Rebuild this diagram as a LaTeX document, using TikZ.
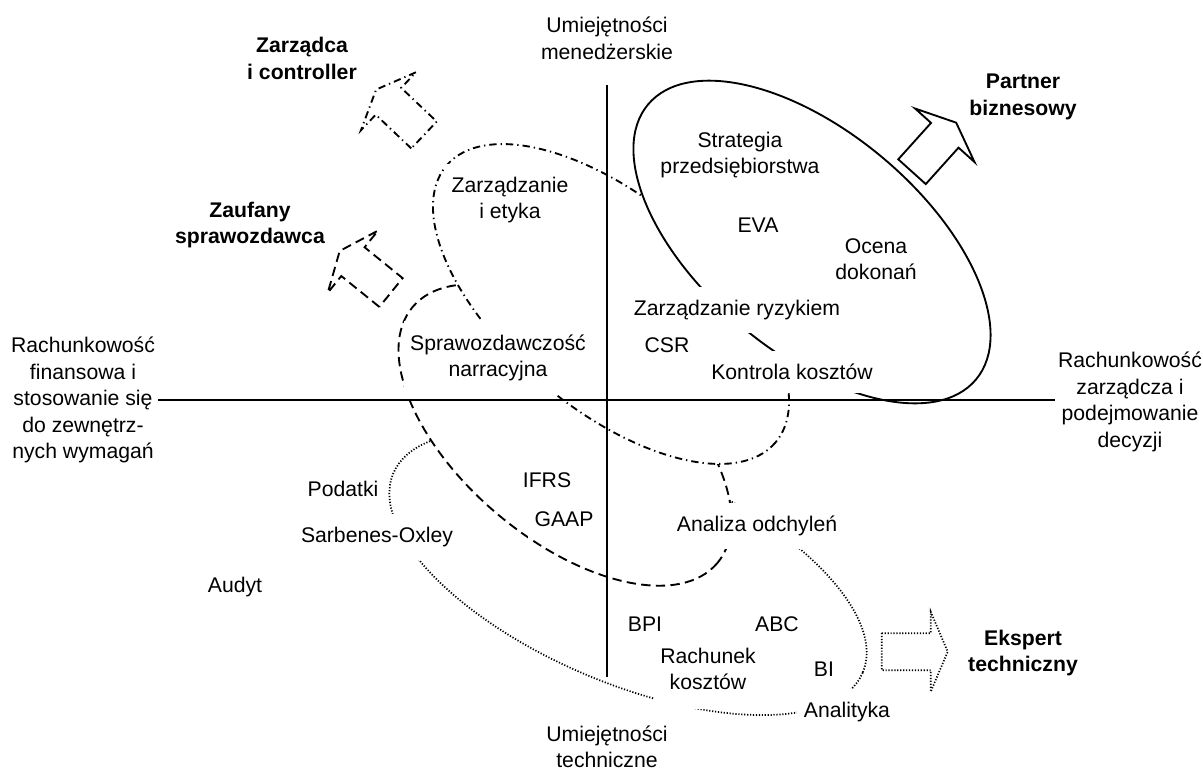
\documentclass[tikz,border=0pt]{standalone}
\usepackage{fontspec}
\setmainfont{Liberation Sans}
\newcommand\lblsize{\fontsize{15.9}{19.9}\selectfont}
\tikzset{
  axisline/.style={line width=1.4pt},
  lbl/.style={fill=white, inner xsep=5pt, inner ysep=10pt, align=center, font=\lblsize},
  axislbl/.style={inner xsep=2pt, inner ysep=2pt, align=center, font=\lblsize},
  rolelbl/.style={inner sep=2pt, align=center, font=\lblsize\bfseries},
  ring/.style={line width=1.4pt},
  dashpat/.style={dash pattern=on 7pt off 4pt},
  dashdotpat/.style={dash pattern=on 5.5pt off 3pt on 1pt off 3pt},
  dotpat/.style={dash pattern=on 0.9pt off 1.3pt},
  blockarrow/.pic={
    \draw (0,-18.5) -- (49,-18.5) -- (49,-40) -- (66,0) -- (49,40) -- (49,18.5) -- (0,18.5) -- cycle;
  }
}
\begin{document}
\begin{tikzpicture}[x=0.75pt,y=-0.75pt]
  \useasboundingbox (0,0) rectangle (1203,771);

  \draw[ring,dotpat,line width=1.3pt,rotate around={-23:(628,573)}] (628,573) ellipse [x radius=255, y radius=110];
  \draw[ring,dashpat,fill=white,rotate around={-40:(565,435)}] (565,435) ellipse [x radius=199, y radius=104];
  \draw[ring,dashdotpat,fill=white,rotate around={-40:(611,304)}] (611,304) ellipse [x radius=215, y radius=105];
  \draw[ring,fill=white,rotate around={-40:(812,242)}] (812,242) ellipse [x radius=214, y radius=110];

  \node[axislbl] (mgrskill) at (607,38.5) {Umiejętności\\menedżerskie};
  \node[axislbl] (techskill) at (607,747) {Umiejętności\\techniczne};
  \node[axislbl] (finacc) at (83,400) {Rachunkowość\\finansowa i\\stosowanie się\\do zewnętrz-\\nych wymagań};
  \node[axislbl] (mgmtacc) at (1130,402) {Rachunkowość\\zarządcza i\\podejmowanie\\decyzji};

  \node[rolelbl] (controller) at (302,58.5) {Zarządca\\i controller};
  \node[rolelbl] (reporter) at (250,225) {Zaufany\\sprawozdawca};
  \node[rolelbl] (partner) at (1023,97) {Partner\\biznesowy};
  \node[rolelbl] (expert) at (1023,653) {Ekspert\\techniczny};

  \node[lbl] (strategy) at (740,155) {Strategia\\przedsiębiorstwa};
  \node[lbl] (eva) at (758,225) {EVA};
  \node[lbl] (perf) at (876,259) {Ocena\\dokonań};
  \node[lbl] (risk) at (737,310) {Zarządzanie ryzykiem};
  \node[lbl] (csr) at (667,345) {CSR};
  \node[lbl] (costctrl) at (792,372) {Kontrola kosztów};
  \node[lbl] (ethics) at (510,200) {Zarządzanie\\i etyka};
  \node[lbl] (narrative) at (498,358) {Sprawozdawczość\\narracyjna};
  \node[lbl] (ifrs) at (547,480) {IFRS};
  \node[lbl] (gaap) at (564,519) {GAAP};
  \node[lbl] (tax) at (343,489) {Podatki};
  \node[lbl] (sox) at (377,537) {Sarbenes-Oxley};
  \node[lbl] (audit) at (235,587) {Audyt};
  \node[lbl] (variance) at (757,526) {Analiza odchyleń};
  \node[lbl,inner ysep=14pt] (costing) at (708,669) {Rachunek\\kosztów};
  \node[lbl] (bpi) at (645,624) {BPI};
  \node[lbl] (abc) at (777,624) {ABC};
  \node[lbl] (bi) at (824,669) {BI};
  \node[lbl] (analytics) at (847,712) {Analityka};

  \coordinate (vtop) at (607,85);
  \coordinate (vbot) at (607,677);
  \draw[axisline] (finacc.east) -- (finacc.east -| mgmtacc.west);
  \draw[axisline] (vtop) -- (vbot);

  \pic[rotate=136.5,ring,dashdotpat] at (424,135) {blockarrow};
  \pic[rotate=141,ring,dashpat] at (391,292.5) {blockarrow};
  \pic[rotate=48,ring] at (912,171.7) {blockarrow};
  \pic[ring,dotpat,line width=1.3pt] at (881.7,651.7) {blockarrow};
\end{tikzpicture}
\end{document}
